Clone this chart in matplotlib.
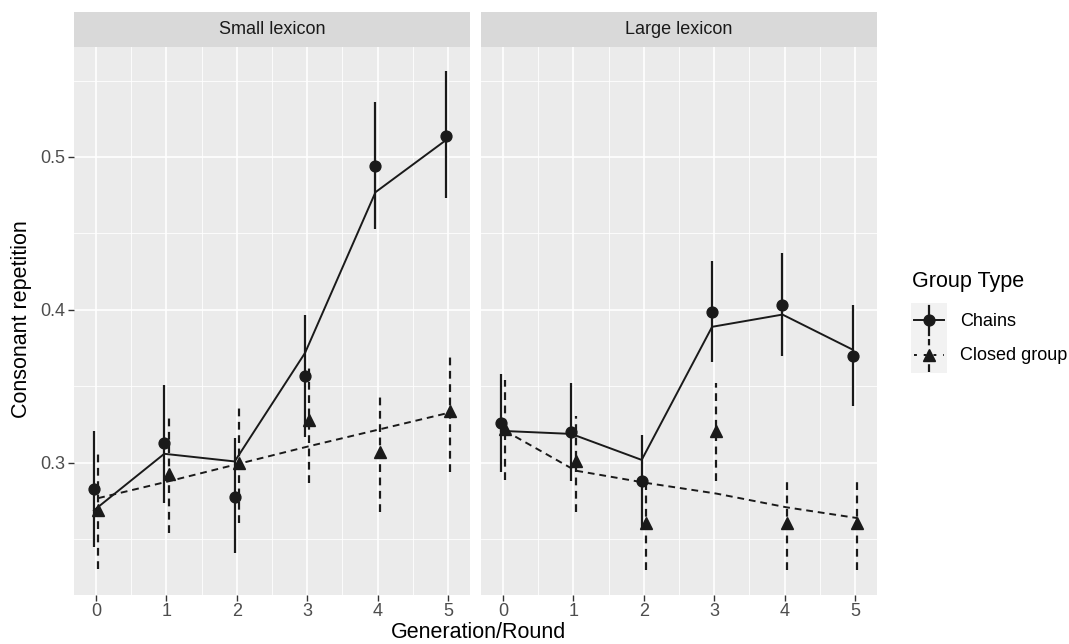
import matplotlib
matplotlib.use("Agg")
import matplotlib.pyplot as plt
from matplotlib.patches import Rectangle

plt.rcParams['font.family'] = ['Liberation Sans', 'DejaVu Sans']

gens = [0, 1, 2, 3, 4, 5]
panels = ["Small lexicon", "Large lexicon"]

# means and error bar limits
chain_mean = {
    "Small lexicon": [0.283, 0.313, 0.278, 0.357, 0.494, 0.514],
    "Large lexicon": [0.326, 0.320, 0.288, 0.399, 0.403, 0.370],
}
chain_hi = {
    "Small lexicon": [0.321, 0.351, 0.316, 0.397, 0.536, 0.556],
    "Large lexicon": [0.358, 0.352, 0.318, 0.432, 0.437, 0.403],
}
chain_lo = {
    "Small lexicon": [0.245, 0.274, 0.241, 0.317, 0.453, 0.473],
    "Large lexicon": [0.294, 0.288, 0.257, 0.366, 0.370, 0.337],
}
closed_mean = {
    "Small lexicon": [0.269, 0.293, 0.300, 0.328, 0.307, 0.334],
    "Large lexicon": [0.322, 0.301, 0.261, 0.321, 0.261, 0.261],
}
closed_hi = {
    "Small lexicon": [0.307, 0.330, 0.337, 0.364, 0.344, 0.371],
    "Large lexicon": [0.354, 0.331, 0.289, 0.352, 0.289, 0.289],
}
closed_lo = {
    "Small lexicon": [0.231, 0.254, 0.261, 0.287, 0.268, 0.294],
    "Large lexicon": [0.289, 0.268, 0.230, 0.288, 0.230, 0.230],
}
# fitted lines
chain_fit = {
    "Small lexicon": [0.269, 0.306, 0.301, 0.372, 0.477, 0.511],
    "Large lexicon": [0.321, 0.319, 0.302, 0.389, 0.397, 0.374],
}
closed_fit = {
    "Small lexicon": [0.277, 0.288, 0.2995, 0.311, 0.322, 0.333],
    "Large lexicon": [0.321, 0.295, 0.287, 0.280, 0.271, 0.264],
}

W, H = 1069, 644
fig = plt.figure(figsize=(W / 100, H / 100), dpi=100)

def px(x0, y0, x1, y1):
    return [x0 / W, 1 - y1 / H, (x1 - x0) / W, (y1 - y0) / H]

panel_x = [(74, 470), (481, 877)]
dodge = 0.03
dash = (0, (3.5, 2.5))

for i, name in enumerate(panels):
    x0, x1 = panel_x[i]
    ax = fig.add_axes(px(x0, 47, x1, 595))
    ax.set_facecolor("#EBEBEB")
    for s in ax.spines.values():
        s.set_visible(False)
    ax.set_xlim(-0.3125, 5.3125)
    ax.set_ylim(0.2137, 0.5719)
    ax.set_xticks(gens)
    ax.set_xticks([g + 0.5 for g in gens[:-1]], minor=True)
    ax.set_yticks([0.3, 0.4, 0.5])
    ax.set_yticks([0.25, 0.35, 0.45, 0.55], minor=True)
    ax.grid(which="major", color="white", linewidth=1.2)
    ax.grid(which="minor", color="white", linewidth=0.6)
    ax.set_axisbelow(True)
    ax.tick_params(which="major", length=4, width=1, color="#333333",
                   labelsize=13, labelcolor="#4D4D4D", pad=2)
    ax.tick_params(which="minor", length=0)
    if i == 0:
        ax.set_yticklabels(["0.3", "0.4", "0.5"])
    else:
        ax.tick_params(axis="y", labelleft=False, length=0)

    xc = [g - dodge for g in gens]
    xt = [g + dodge for g in gens]
    ax.vlines(xc, chain_lo[name], chain_hi[name], color="#1A1A1A", linewidth=1.6)
    ax.vlines(xt, closed_lo[name], closed_hi[name], color="#1A1A1A",
              linewidth=1.6, linestyles=[dash])
    ax.plot(xc, chain_mean[name], "o", color="#1A1A1A", markersize=7.8, zorder=3)
    ax.plot(xt, closed_mean[name], "^", color="#1A1A1A", markersize=8.8, zorder=3)
    ax.plot(xc, chain_fit[name], "-", color="#1A1A1A", linewidth=1.4, zorder=2)
    ax.plot(xt, closed_fit[name], color="#1A1A1A", linewidth=1.4,
            linestyle=dash, zorder=2)

    sx = fig.add_axes(px(x0, 12, x1, 47))
    sx.set_facecolor("#D9D9D9")
    sx.set_xticks([])
    sx.set_yticks([])
    for s in sx.spines.values():
        s.set_visible(False)
    sx.text(0.5, 0.5, name, ha="center", va="center", fontsize=13,
            color="#1A1A1A", transform=sx.transAxes)

fig.text(479 / W, 1 - 632 / H, "Generation/Round", ha="center", va="center",
         fontsize=15.5)
fig.text(22 / W, 1 - 319 / H, "Consonant repetition", ha="center", va="center",
         rotation=90, fontsize=15.5)

# legend
fig.text(912 / W, 1 - 282 / H, "Group Type", ha="left", va="center", fontsize=15.5)
lg = fig.add_axes(px(911, 303, 947, 373))
lg.set_xlim(0, 1)
lg.set_ylim(0, 2)
lg.axis("off")
lg.add_patch(Rectangle((0, 0), 1, 2, facecolor="#F2F2F2", edgecolor="none"))
lg.plot([0.08, 0.92], [1.5, 1.5], "-", color="#1A1A1A", linewidth=1.4)
lg.plot([0.5, 0.5], [1.08, 1.92], "-", color="#1A1A1A", linewidth=1.6)
lg.plot([0.5], [1.5], "o", color="#1A1A1A", markersize=7.8)
lg.plot([0.08, 0.92], [0.5, 0.5], color="#1A1A1A", linewidth=1.4, linestyle=(0, (1.5, 3.5)))
lg.plot([0.5, 0.5], [0.04, 0.96], color="#1A1A1A", linewidth=1.6, linestyle=(0, (3.5, 2.5)))
lg.plot([0.5], [0.5], "^", color="#1A1A1A", markersize=8.8)
fig.text(960 / W, 1 - 321 / H, "Chains", ha="left", va="center", fontsize=13)
fig.text(960 / W, 1 - 355 / H, "Closed group", ha="left", va="center", fontsize=13)

fig.savefig("out.png", dpi=100)
